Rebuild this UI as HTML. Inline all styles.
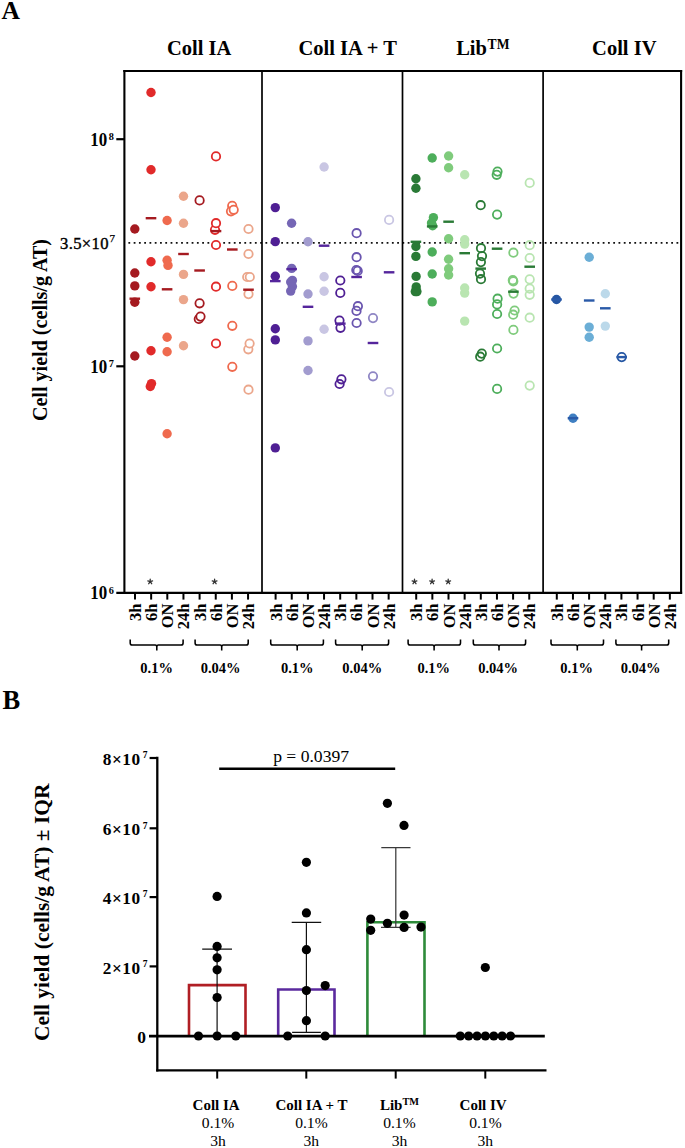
<!DOCTYPE html>
<html><head><meta charset="utf-8"><title>Cell yield figure</title>
<style>
html,body{margin:0;padding:0;background:#fff;}
body{width:685px;height:1148px;overflow:hidden;}
svg{display:block;font-family:"Liberation Serif", serif;}
</style></head>
<body>
<svg width="685" height="1148" viewBox="0 0 685 1148">
<rect width="685" height="1148" fill="#fff"/>
<text x="1.6" y="18.7" font-size="25.5" font-weight="bold">A</text>
<text x="199.2" y="54.5" font-size="20.5" font-weight="bold" text-anchor="middle">Coll IA</text>
<text x="347.7" y="54.5" font-size="20.5" font-weight="bold" text-anchor="middle">Coll IA + T</text>
<text x="624.3" y="54.5" font-size="20.5" font-weight="bold" text-anchor="middle">Coll IV</text>
<text x="456.2" y="54.5" font-size="20.5" font-weight="bold">Lib<tspan font-size="13.6" dy="-5.7" dx="0.6">TM</tspan></text>
<line x1="128.4" y1="242.9" x2="679" y2="242.9" stroke="#111" stroke-width="1.8" stroke-dasharray="1.8 3.47"/>
<circle cx="134.8" cy="229" r="4.7" fill="#A51A20"/>
<circle cx="134.8" cy="273" r="4.7" fill="#A51A20"/>
<circle cx="134.8" cy="285.9" r="4.7" fill="#A51A20"/>
<circle cx="134.8" cy="302.2" r="4.7" fill="#A51A20"/>
<circle cx="134.8" cy="356" r="4.7" fill="#A51A20"/>
<circle cx="151" cy="92.5" r="4.7" fill="#E12A2A"/>
<circle cx="151" cy="169.7" r="4.7" fill="#E12A2A"/>
<circle cx="151" cy="261.7" r="4.7" fill="#E12A2A"/>
<circle cx="151" cy="286.7" r="4.7" fill="#E12A2A"/>
<circle cx="151" cy="350.7" r="4.7" fill="#E12A2A"/>
<circle cx="151.5" cy="383.6" r="4.7" fill="#E12A2A"/>
<circle cx="150.3" cy="386.5" r="4.7" fill="#E12A2A"/>
<circle cx="167.1" cy="220.5" r="4.7" fill="#EF6A4E"/>
<circle cx="167.1" cy="260.3" r="4.7" fill="#EF6A4E"/>
<circle cx="168" cy="265.4" r="4.7" fill="#EF6A4E"/>
<circle cx="167.1" cy="337.2" r="4.7" fill="#EF6A4E"/>
<circle cx="167.1" cy="351.7" r="4.7" fill="#EF6A4E"/>
<circle cx="167.1" cy="433.7" r="4.7" fill="#EF6A4E"/>
<circle cx="183.5" cy="196.3" r="4.7" fill="#EBA68B"/>
<circle cx="183.5" cy="223.3" r="4.7" fill="#EBA68B"/>
<circle cx="183.5" cy="274.4" r="4.7" fill="#EBA68B"/>
<circle cx="183.5" cy="299.6" r="4.7" fill="#EBA68B"/>
<circle cx="183.5" cy="345.8" r="4.7" fill="#EBA68B"/>
<circle cx="199.6" cy="200.4" r="4.2" fill="#fff" stroke="#A51A20" stroke-width="1.8"/>
<circle cx="199.6" cy="303.3" r="4.2" fill="#fff" stroke="#A51A20" stroke-width="1.8"/>
<circle cx="198.8" cy="319" r="4.2" fill="#fff" stroke="#A51A20" stroke-width="1.8"/>
<circle cx="200.5" cy="316.6" r="4.2" fill="#fff" stroke="#A51A20" stroke-width="1.8"/>
<circle cx="216" cy="156.4" r="4.2" fill="#fff" stroke="#E12A2A" stroke-width="1.8"/>
<circle cx="215" cy="229.8" r="4.2" fill="#fff" stroke="#E12A2A" stroke-width="1.8"/>
<circle cx="216" cy="223.2" r="4.2" fill="#fff" stroke="#E12A2A" stroke-width="1.8"/>
<circle cx="216" cy="245" r="4.2" fill="#fff" stroke="#E12A2A" stroke-width="1.8"/>
<circle cx="216" cy="286.7" r="4.2" fill="#fff" stroke="#E12A2A" stroke-width="1.8"/>
<circle cx="216" cy="343.5" r="4.2" fill="#fff" stroke="#E12A2A" stroke-width="1.8"/>
<circle cx="232.2" cy="205.9" r="4.2" fill="#fff" stroke="#EF6A4E" stroke-width="1.8"/>
<circle cx="231" cy="211.3" r="4.2" fill="#fff" stroke="#EF6A4E" stroke-width="1.8"/>
<circle cx="233.7" cy="209.8" r="4.2" fill="#fff" stroke="#EF6A4E" stroke-width="1.8"/>
<circle cx="232.3" cy="285.9" r="4.2" fill="#fff" stroke="#EF6A4E" stroke-width="1.8"/>
<circle cx="232.3" cy="325.8" r="4.2" fill="#fff" stroke="#EF6A4E" stroke-width="1.8"/>
<circle cx="232.3" cy="366.8" r="4.2" fill="#fff" stroke="#EF6A4E" stroke-width="1.8"/>
<circle cx="248.5" cy="229" r="4.2" fill="#fff" stroke="#EBA68B" stroke-width="1.8"/>
<circle cx="248.5" cy="254" r="4.2" fill="#fff" stroke="#EBA68B" stroke-width="1.8"/>
<circle cx="247.2" cy="277" r="4.2" fill="#fff" stroke="#EBA68B" stroke-width="1.8"/>
<circle cx="249.8" cy="277" r="4.2" fill="#fff" stroke="#EBA68B" stroke-width="1.8"/>
<circle cx="248.5" cy="294.1" r="4.2" fill="#fff" stroke="#EBA68B" stroke-width="1.8"/>
<circle cx="248.3" cy="349.3" r="4.2" fill="#fff" stroke="#EBA68B" stroke-width="1.8"/>
<circle cx="249.6" cy="343.5" r="4.2" fill="#fff" stroke="#EBA68B" stroke-width="1.8"/>
<circle cx="248.5" cy="389.7" r="4.2" fill="#fff" stroke="#EBA68B" stroke-width="1.8"/>
<circle cx="275.3" cy="207.6" r="4.7" fill="#4F1F94"/>
<circle cx="275.3" cy="241.6" r="4.7" fill="#4F1F94"/>
<circle cx="275.3" cy="276.2" r="4.7" fill="#4F1F94"/>
<circle cx="275.3" cy="328.7" r="4.7" fill="#4F1F94"/>
<circle cx="275.3" cy="339.9" r="4.7" fill="#4F1F94"/>
<circle cx="275.3" cy="447.9" r="4.7" fill="#4F1F94"/>
<circle cx="291.6" cy="223.2" r="4.7" fill="#7566B5"/>
<circle cx="291.7" cy="268.4" r="4.7" fill="#7566B5"/>
<circle cx="292.4" cy="280.4" r="4.7" fill="#7566B5"/>
<circle cx="290.7" cy="282" r="4.7" fill="#7566B5"/>
<circle cx="292.4" cy="286.6" r="4.7" fill="#7566B5"/>
<circle cx="290.7" cy="291.1" r="4.7" fill="#7566B5"/>
<circle cx="308" cy="241.8" r="4.7" fill="#A29CCF"/>
<circle cx="308" cy="294" r="4.7" fill="#A29CCF"/>
<circle cx="308" cy="340.9" r="4.7" fill="#A29CCF"/>
<circle cx="308" cy="370.5" r="4.7" fill="#A29CCF"/>
<circle cx="324.1" cy="167" r="4.7" fill="#C9C6E3"/>
<circle cx="324.1" cy="276.8" r="4.7" fill="#C9C6E3"/>
<circle cx="324.1" cy="291.3" r="4.7" fill="#C9C6E3"/>
<circle cx="324.1" cy="329.3" r="4.7" fill="#C9C6E3"/>
<circle cx="340.3" cy="280.5" r="4.2" fill="none" stroke="#4F1F94" stroke-width="1.8"/>
<circle cx="340.3" cy="292.9" r="4.2" fill="none" stroke="#4F1F94" stroke-width="1.8"/>
<circle cx="339.5" cy="320.6" r="4.2" fill="none" stroke="#4F1F94" stroke-width="1.8"/>
<circle cx="340.5" cy="327.8" r="4.2" fill="none" stroke="#4F1F94" stroke-width="1.8"/>
<circle cx="341.4" cy="379.3" r="4.2" fill="none" stroke="#4F1F94" stroke-width="1.8"/>
<circle cx="339.6" cy="384" r="4.2" fill="none" stroke="#4F1F94" stroke-width="1.8"/>
<circle cx="356.6" cy="233.2" r="4.2" fill="none" stroke="#6A55AF" stroke-width="1.8"/>
<circle cx="356.6" cy="257.2" r="4.2" fill="none" stroke="#6A55AF" stroke-width="1.8"/>
<circle cx="356.3" cy="270" r="4.2" fill="none" stroke="#6A55AF" stroke-width="1.8"/>
<circle cx="357.7" cy="270.9" r="4.2" fill="none" stroke="#6A55AF" stroke-width="1.8"/>
<circle cx="357.9" cy="306.2" r="4.2" fill="none" stroke="#6A55AF" stroke-width="1.8"/>
<circle cx="356.5" cy="310.9" r="4.2" fill="none" stroke="#6A55AF" stroke-width="1.8"/>
<circle cx="356.6" cy="323" r="4.2" fill="none" stroke="#6A55AF" stroke-width="1.8"/>
<circle cx="373" cy="318.1" r="4.2" fill="none" stroke="#8F86C4" stroke-width="1.8"/>
<circle cx="373" cy="376.3" r="4.2" fill="none" stroke="#8F86C4" stroke-width="1.8"/>
<circle cx="389.1" cy="219.9" r="4.2" fill="none" stroke="#C9C6E3" stroke-width="1.8"/>
<circle cx="389.1" cy="392" r="4.2" fill="none" stroke="#C9C6E3" stroke-width="1.8"/>
<circle cx="415.9" cy="178.8" r="4.7" fill="#2A7A36"/>
<circle cx="415.9" cy="188.3" r="4.7" fill="#2A7A36"/>
<circle cx="415.9" cy="246.5" r="4.7" fill="#2A7A36"/>
<circle cx="415.9" cy="256.4" r="4.7" fill="#2A7A36"/>
<circle cx="416.1" cy="276.4" r="4.7" fill="#2A7A36"/>
<circle cx="416.2" cy="286.9" r="4.7" fill="#2A7A36"/>
<circle cx="415.3" cy="291.6" r="4.7" fill="#2A7A36"/>
<circle cx="416.9" cy="291.6" r="4.7" fill="#2A7A36"/>
<circle cx="432.2" cy="158" r="4.7" fill="#4DAE5B"/>
<circle cx="433.4" cy="217.6" r="4.7" fill="#4DAE5B"/>
<circle cx="431.5" cy="223" r="4.7" fill="#4DAE5B"/>
<circle cx="432.6" cy="225.8" r="4.7" fill="#4DAE5B"/>
<circle cx="432.2" cy="252" r="4.7" fill="#4DAE5B"/>
<circle cx="432.2" cy="274" r="4.7" fill="#4DAE5B"/>
<circle cx="432.2" cy="301.9" r="4.7" fill="#4DAE5B"/>
<circle cx="448.6" cy="156" r="4.7" fill="#7FCB7C"/>
<circle cx="448.6" cy="167.7" r="4.7" fill="#7FCB7C"/>
<circle cx="448.6" cy="238.7" r="4.7" fill="#7FCB7C"/>
<circle cx="448.6" cy="259.2" r="4.7" fill="#7FCB7C"/>
<circle cx="448.6" cy="268.7" r="4.7" fill="#7FCB7C"/>
<circle cx="448.6" cy="275" r="4.7" fill="#7FCB7C"/>
<circle cx="464.7" cy="174.7" r="4.7" fill="#B9E5B1"/>
<circle cx="464.7" cy="239.7" r="4.7" fill="#B9E5B1"/>
<circle cx="464.7" cy="244.1" r="4.7" fill="#B9E5B1"/>
<circle cx="464.7" cy="288" r="4.7" fill="#B9E5B1"/>
<circle cx="464.7" cy="293.1" r="4.7" fill="#B9E5B1"/>
<circle cx="464.7" cy="321.1" r="4.7" fill="#B9E5B1"/>
<circle cx="480.7" cy="205.2" r="4.2" fill="none" stroke="#2A7A36" stroke-width="1.8"/>
<circle cx="481" cy="248.2" r="4.2" fill="none" stroke="#2A7A36" stroke-width="1.8"/>
<circle cx="482" cy="256.1" r="4.2" fill="none" stroke="#2A7A36" stroke-width="1.8"/>
<circle cx="480.9" cy="262.1" r="4.2" fill="none" stroke="#2A7A36" stroke-width="1.8"/>
<circle cx="480" cy="273.6" r="4.2" fill="none" stroke="#2A7A36" stroke-width="1.8"/>
<circle cx="481" cy="279.2" r="4.2" fill="none" stroke="#2A7A36" stroke-width="1.8"/>
<circle cx="481.8" cy="353.6" r="4.2" fill="none" stroke="#2A7A36" stroke-width="1.8"/>
<circle cx="480.2" cy="356.7" r="4.2" fill="none" stroke="#2A7A36" stroke-width="1.8"/>
<circle cx="497.5" cy="171.6" r="4.2" fill="none" stroke="#4DAE5B" stroke-width="1.8"/>
<circle cx="496.7" cy="174.8" r="4.2" fill="none" stroke="#4DAE5B" stroke-width="1.8"/>
<circle cx="497.1" cy="214.6" r="4.2" fill="none" stroke="#4DAE5B" stroke-width="1.8"/>
<circle cx="497.6" cy="298.7" r="4.2" fill="none" stroke="#4DAE5B" stroke-width="1.8"/>
<circle cx="497.1" cy="304.4" r="4.2" fill="none" stroke="#4DAE5B" stroke-width="1.8"/>
<circle cx="497.1" cy="314" r="4.2" fill="none" stroke="#4DAE5B" stroke-width="1.8"/>
<circle cx="497.1" cy="348.5" r="4.2" fill="none" stroke="#4DAE5B" stroke-width="1.8"/>
<circle cx="497.1" cy="388.9" r="4.2" fill="none" stroke="#4DAE5B" stroke-width="1.8"/>
<circle cx="513.4" cy="252.7" r="4.2" fill="none" stroke="#7FCB7C" stroke-width="1.8"/>
<circle cx="512.8" cy="280.2" r="4.2" fill="none" stroke="#7FCB7C" stroke-width="1.8"/>
<circle cx="513.3" cy="281.3" r="4.2" fill="none" stroke="#7FCB7C" stroke-width="1.8"/>
<circle cx="513.5" cy="293.6" r="4.2" fill="none" stroke="#7FCB7C" stroke-width="1.8"/>
<circle cx="514.6" cy="310.5" r="4.2" fill="none" stroke="#7FCB7C" stroke-width="1.8"/>
<circle cx="513.2" cy="314.7" r="4.2" fill="none" stroke="#7FCB7C" stroke-width="1.8"/>
<circle cx="513.4" cy="329.9" r="4.2" fill="none" stroke="#7FCB7C" stroke-width="1.8"/>
<circle cx="529.7" cy="182.9" r="4.2" fill="none" stroke="#B9E5B1" stroke-width="1.8"/>
<circle cx="529.7" cy="245.2" r="4.2" fill="none" stroke="#B9E5B1" stroke-width="1.8"/>
<circle cx="529.7" cy="258" r="4.2" fill="none" stroke="#B9E5B1" stroke-width="1.8"/>
<circle cx="529.7" cy="279.4" r="4.2" fill="none" stroke="#B9E5B1" stroke-width="1.8"/>
<circle cx="529.7" cy="288.6" r="4.2" fill="none" stroke="#B9E5B1" stroke-width="1.8"/>
<circle cx="529.7" cy="294.8" r="4.2" fill="none" stroke="#B9E5B1" stroke-width="1.8"/>
<circle cx="529.7" cy="317.7" r="4.2" fill="none" stroke="#B9E5B1" stroke-width="1.8"/>
<circle cx="529.7" cy="385.6" r="4.2" fill="none" stroke="#B9E5B1" stroke-width="1.8"/>
<circle cx="556.5" cy="299.5" r="4.7" fill="#2556A3"/>
<circle cx="573" cy="418.2" r="4.7" fill="#3F7FC2"/>
<circle cx="589.2" cy="257.2" r="4.7" fill="#6BAED6"/>
<circle cx="589.2" cy="327.1" r="4.7" fill="#6BAED6"/>
<circle cx="589.2" cy="337.3" r="4.7" fill="#6BAED6"/>
<circle cx="605.3" cy="293.8" r="4.7" fill="#BCD9EA"/>
<circle cx="605.3" cy="326.1" r="4.7" fill="#BCD9EA"/>
<circle cx="621.7" cy="357.1" r="4.2" fill="none" stroke="#2556A3" stroke-width="1.8"/>
<rect x="129.5" y="297.5" width="10.6" height="2.4" fill="#A51A20"/>
<rect x="145.7" y="217" width="10.6" height="2.4" fill="#A51A20"/>
<rect x="161.8" y="288.1" width="10.6" height="2.4" fill="#A51A20"/>
<rect x="178.2" y="252.8" width="10.6" height="2.4" fill="#A51A20"/>
<rect x="194.3" y="269.3" width="10.6" height="2.4" fill="#A51A20"/>
<rect x="210.7" y="229.9" width="10.6" height="2.4" fill="#A51A20"/>
<rect x="227" y="248.3" width="10.6" height="2.4" fill="#A51A20"/>
<rect x="243.2" y="288.5" width="10.6" height="2.4" fill="#A51A20"/>
<rect x="270" y="279.9" width="10.6" height="2.4" fill="#55259C"/>
<rect x="286.3" y="267.9" width="10.6" height="2.4" fill="#55259C"/>
<rect x="302.7" y="305.6" width="10.6" height="2.4" fill="#55259C"/>
<rect x="318.8" y="244.5" width="10.6" height="2.4" fill="#55259C"/>
<rect x="335" y="322.4" width="10.6" height="2.4" fill="#55259C"/>
<rect x="351.3" y="275.8" width="10.6" height="2.4" fill="#55259C"/>
<rect x="367.7" y="341.8" width="10.6" height="2.4" fill="#55259C"/>
<rect x="383.8" y="271.1" width="10.6" height="2.4" fill="#55259C"/>
<rect x="410.6" y="240.6" width="10.6" height="2.4" fill="#2A7A36"/>
<rect x="426.9" y="225.2" width="10.6" height="2.4" fill="#2A7A36"/>
<rect x="443.3" y="220.5" width="10.6" height="2.4" fill="#2A7A36"/>
<rect x="459.4" y="252" width="10.6" height="2.4" fill="#2A7A36"/>
<rect x="475.4" y="267.4" width="10.6" height="2.4" fill="#2A7A36"/>
<rect x="491.8" y="247.5" width="10.6" height="2.4" fill="#2A7A36"/>
<rect x="508.1" y="290.5" width="10.6" height="2.4" fill="#2A7A36"/>
<rect x="524.4" y="265.5" width="10.6" height="2.4" fill="#2A7A36"/>
<rect x="551.2" y="298.3" width="10.6" height="2.4" fill="#2A5AA8"/>
<rect x="567.7" y="417" width="10.6" height="2.4" fill="#2A5AA8"/>
<rect x="583.9" y="299.3" width="10.6" height="2.4" fill="#2A5AA8"/>
<rect x="600" y="307.1" width="10.6" height="2.4" fill="#2A5AA8"/>
<rect x="616.4" y="355.9" width="10.6" height="2.4" fill="#2A5AA8"/>
<g stroke="#000" fill="none">
<line x1="123.3" y1="71" x2="682.15" y2="71" stroke-width="2.2"/>
<line x1="124.4" y1="70" x2="124.4" y2="593.8" stroke-width="2.1"/>
<line x1="681.1" y1="70" x2="681.1" y2="593.8" stroke-width="2.1"/>
<line x1="262.0" y1="70" x2="262.0" y2="593" stroke-width="1.7"/>
<line x1="402.5" y1="70" x2="402.5" y2="593" stroke-width="1.7"/>
<line x1="543.1" y1="70" x2="543.1" y2="593" stroke-width="1.7"/>
<line x1="116.3" y1="592.8" x2="682.15" y2="592.8" stroke-width="2.3"/>
<line x1="116.3" y1="139.2" x2="124.4" y2="139.2" stroke-width="2.2"/>
<line x1="116.3" y1="366.3" x2="124.4" y2="366.3" stroke-width="2.2"/>
<line x1="135" y1="592" x2="135" y2="599.6" stroke-width="2"/>
<line x1="151.15" y1="592" x2="151.15" y2="599.6" stroke-width="2"/>
<line x1="167.3" y1="592" x2="167.3" y2="599.6" stroke-width="2"/>
<line x1="183.45" y1="592" x2="183.45" y2="599.6" stroke-width="2"/>
<line x1="199.6" y1="592" x2="199.6" y2="599.6" stroke-width="2"/>
<line x1="215.75" y1="592" x2="215.75" y2="599.6" stroke-width="2"/>
<line x1="231.9" y1="592" x2="231.9" y2="599.6" stroke-width="2"/>
<line x1="248.05" y1="592" x2="248.05" y2="599.6" stroke-width="2"/>
<line x1="275.6" y1="592" x2="275.6" y2="599.6" stroke-width="2"/>
<line x1="291.75" y1="592" x2="291.75" y2="599.6" stroke-width="2"/>
<line x1="307.9" y1="592" x2="307.9" y2="599.6" stroke-width="2"/>
<line x1="324.05" y1="592" x2="324.05" y2="599.6" stroke-width="2"/>
<line x1="340.2" y1="592" x2="340.2" y2="599.6" stroke-width="2"/>
<line x1="356.35" y1="592" x2="356.35" y2="599.6" stroke-width="2"/>
<line x1="372.5" y1="592" x2="372.5" y2="599.6" stroke-width="2"/>
<line x1="388.65" y1="592" x2="388.65" y2="599.6" stroke-width="2"/>
<line x1="416.2" y1="592" x2="416.2" y2="599.6" stroke-width="2"/>
<line x1="432.35" y1="592" x2="432.35" y2="599.6" stroke-width="2"/>
<line x1="448.5" y1="592" x2="448.5" y2="599.6" stroke-width="2"/>
<line x1="464.65" y1="592" x2="464.65" y2="599.6" stroke-width="2"/>
<line x1="480.8" y1="592" x2="480.8" y2="599.6" stroke-width="2"/>
<line x1="496.95" y1="592" x2="496.95" y2="599.6" stroke-width="2"/>
<line x1="513.1" y1="592" x2="513.1" y2="599.6" stroke-width="2"/>
<line x1="529.25" y1="592" x2="529.25" y2="599.6" stroke-width="2"/>
<line x1="556.8" y1="592" x2="556.8" y2="599.6" stroke-width="2"/>
<line x1="572.95" y1="592" x2="572.95" y2="599.6" stroke-width="2"/>
<line x1="589.1" y1="592" x2="589.1" y2="599.6" stroke-width="2"/>
<line x1="605.25" y1="592" x2="605.25" y2="599.6" stroke-width="2"/>
<line x1="621.4" y1="592" x2="621.4" y2="599.6" stroke-width="2"/>
<line x1="637.55" y1="592" x2="637.55" y2="599.6" stroke-width="2"/>
<line x1="653.7" y1="592" x2="653.7" y2="599.6" stroke-width="2"/>
<line x1="669.85" y1="592" x2="669.85" y2="599.6" stroke-width="2"/>
<path d="M130.2 639.6 V642.9 Q130.2 645 132.3 645 H155.2 Q156.8 645 156.8 647 V650.6 M156.8 647 Q156.8 645 158.4 645 H181 Q183.1 645 183.1 642.9 V639.6" stroke-width="1.55"/>
<path d="M195.1 639.6 V642.9 Q195.1 645 197.2 645 H220.1 Q221.7 645 221.7 647 V650.6 M221.7 647 Q221.7 645 223.3 645 H246.1 Q248.2 645 248.2 642.9 V639.6" stroke-width="1.55"/>
<path d="M270.7 639.6 V642.9 Q270.7 645 272.8 645 H295.6 Q297.2 645 297.2 647 V650.6 M297.2 647 Q297.2 645 298.8 645 H321.3 Q323.4 645 323.4 642.9 V639.6" stroke-width="1.55"/>
<path d="M335.6 639.6 V642.9 Q335.6 645 337.7 645 H360.6 Q362.2 645 362.2 647 V650.6 M362.2 647 Q362.2 645 363.8 645 H386.5 Q388.6 645 388.6 642.9 V639.6" stroke-width="1.55"/>
<path d="M408.1 639.6 V642.9 Q408.1 645 410.2 645 H432.5 Q434.1 645 434.1 647 V650.6 M434.1 647 Q434.1 645 435.7 645 H458.4 Q460.5 645 460.5 642.9 V639.6" stroke-width="1.55"/>
<path d="M473.3 639.6 V642.9 Q473.3 645 475.4 645 H497.4 Q499 645 499 647 V650.6 M499 647 Q499 645 500.6 645 H523.5 Q525.6 645 525.6 642.9 V639.6" stroke-width="1.55"/>
<path d="M551 639.6 V642.9 Q551 645 553.1 645 H575.7 Q577.3 645 577.3 647 V650.6 M577.3 647 Q577.3 645 578.9 645 H601.4 Q603.5 645 603.5 642.9 V639.6" stroke-width="1.55"/>
<path d="M615.9 639.6 V642.9 Q615.9 645 618 645 H640 Q641.6 645 641.6 647 V650.6 M641.6 647 Q641.6 645 643.2 645 H666.6 Q668.7 645 668.7 642.9 V639.6" stroke-width="1.55"/>
</g>
<text transform="translate(107.2 146.0) scale(0.92 1)" font-size="18.4" font-weight="bold" text-anchor="end">10</text>
<text transform="translate(108.7 140.3) scale(0.95 1)" font-size="10.8" font-weight="bold">8</text>
<text transform="translate(107.2 372.7) scale(0.92 1)" font-size="18.4" font-weight="bold" text-anchor="end">10</text>
<text transform="translate(108.7 367) scale(0.95 1)" font-size="10.8" font-weight="bold">7</text>
<text transform="translate(107.2 599.4) scale(0.92 1)" font-size="18.4" font-weight="bold" text-anchor="end">10</text>
<text transform="translate(108.7 593.7) scale(0.95 1)" font-size="10.8" font-weight="bold">6</text>
<text x="108.8" y="249.3" font-size="16.6" letter-spacing="0.35" text-anchor="end" stroke="#000" stroke-width="0.4">3.5×10</text>
<text x="109.6" y="242.4" font-size="11" stroke="#000" stroke-width="0.25">7</text>
<text transform="translate(46.6 421.1) rotate(-90)" font-size="20.1" font-weight="bold">Cell yield (cells/g AT)</text>
<path d="M150.2 581.7 L150.2 579.2 M150.2 581.7 L152.58 580.93 M150.2 581.7 L151.67 583.72 M150.2 581.7 L148.73 583.72 M150.2 581.7 L147.82 580.93" stroke="#333" stroke-width="1.3" stroke-linecap="round" fill="none"/>
<path d="M214.6 581.7 L214.6 579.2 M214.6 581.7 L216.98 580.93 M214.6 581.7 L216.07 583.72 M214.6 581.7 L213.13 583.72 M214.6 581.7 L212.22 580.93" stroke="#333" stroke-width="1.3" stroke-linecap="round" fill="none"/>
<path d="M414.5 581.7 L414.5 579.2 M414.5 581.7 L416.88 580.93 M414.5 581.7 L415.97 583.72 M414.5 581.7 L413.03 583.72 M414.5 581.7 L412.12 580.93" stroke="#333" stroke-width="1.3" stroke-linecap="round" fill="none"/>
<path d="M432.1 581.7 L432.1 579.2 M432.1 581.7 L434.48 580.93 M432.1 581.7 L433.57 583.72 M432.1 581.7 L430.63 583.72 M432.1 581.7 L429.72 580.93" stroke="#333" stroke-width="1.3" stroke-linecap="round" fill="none"/>
<path d="M448.2 581.7 L448.2 579.2 M448.2 581.7 L450.58 580.93 M448.2 581.7 L449.67 583.72 M448.2 581.7 L446.73 583.72 M448.2 581.7 L445.82 580.93" stroke="#333" stroke-width="1.3" stroke-linecap="round" fill="none"/>
<text transform="translate(141 603.6) rotate(-90)" font-size="16.5" font-weight="bold" text-anchor="end">3h</text>
<text transform="translate(157.15 603.6) rotate(-90)" font-size="16.5" font-weight="bold" text-anchor="end">6h</text>
<text transform="translate(173.3 603.6) rotate(-90)" font-size="16.5" font-weight="bold" text-anchor="end">ON</text>
<text transform="translate(189.45 603.6) rotate(-90)" font-size="16.5" font-weight="bold" text-anchor="end">24h</text>
<text transform="translate(205.6 603.6) rotate(-90)" font-size="16.5" font-weight="bold" text-anchor="end">3h</text>
<text transform="translate(221.75 603.6) rotate(-90)" font-size="16.5" font-weight="bold" text-anchor="end">6h</text>
<text transform="translate(237.9 603.6) rotate(-90)" font-size="16.5" font-weight="bold" text-anchor="end">ON</text>
<text transform="translate(254.05 603.6) rotate(-90)" font-size="16.5" font-weight="bold" text-anchor="end">24h</text>
<text transform="translate(281.6 603.6) rotate(-90)" font-size="16.5" font-weight="bold" text-anchor="end">3h</text>
<text transform="translate(297.75 603.6) rotate(-90)" font-size="16.5" font-weight="bold" text-anchor="end">6h</text>
<text transform="translate(313.9 603.6) rotate(-90)" font-size="16.5" font-weight="bold" text-anchor="end">ON</text>
<text transform="translate(330.05 603.6) rotate(-90)" font-size="16.5" font-weight="bold" text-anchor="end">24h</text>
<text transform="translate(346.2 603.6) rotate(-90)" font-size="16.5" font-weight="bold" text-anchor="end">3h</text>
<text transform="translate(362.35 603.6) rotate(-90)" font-size="16.5" font-weight="bold" text-anchor="end">6h</text>
<text transform="translate(378.5 603.6) rotate(-90)" font-size="16.5" font-weight="bold" text-anchor="end">ON</text>
<text transform="translate(394.65 603.6) rotate(-90)" font-size="16.5" font-weight="bold" text-anchor="end">24h</text>
<text transform="translate(422.2 603.6) rotate(-90)" font-size="16.5" font-weight="bold" text-anchor="end">3h</text>
<text transform="translate(438.35 603.6) rotate(-90)" font-size="16.5" font-weight="bold" text-anchor="end">6h</text>
<text transform="translate(454.5 603.6) rotate(-90)" font-size="16.5" font-weight="bold" text-anchor="end">ON</text>
<text transform="translate(470.65 603.6) rotate(-90)" font-size="16.5" font-weight="bold" text-anchor="end">24h</text>
<text transform="translate(486.8 603.6) rotate(-90)" font-size="16.5" font-weight="bold" text-anchor="end">3h</text>
<text transform="translate(502.95 603.6) rotate(-90)" font-size="16.5" font-weight="bold" text-anchor="end">6h</text>
<text transform="translate(519.1 603.6) rotate(-90)" font-size="16.5" font-weight="bold" text-anchor="end">ON</text>
<text transform="translate(535.25 603.6) rotate(-90)" font-size="16.5" font-weight="bold" text-anchor="end">24h</text>
<text transform="translate(562.8 603.6) rotate(-90)" font-size="16.5" font-weight="bold" text-anchor="end">3h</text>
<text transform="translate(578.95 603.6) rotate(-90)" font-size="16.5" font-weight="bold" text-anchor="end">6h</text>
<text transform="translate(595.1 603.6) rotate(-90)" font-size="16.5" font-weight="bold" text-anchor="end">ON</text>
<text transform="translate(611.25 603.6) rotate(-90)" font-size="16.5" font-weight="bold" text-anchor="end">24h</text>
<text transform="translate(627.4 603.6) rotate(-90)" font-size="16.5" font-weight="bold" text-anchor="end">3h</text>
<text transform="translate(643.55 603.6) rotate(-90)" font-size="16.5" font-weight="bold" text-anchor="end">6h</text>
<text transform="translate(659.7 603.6) rotate(-90)" font-size="16.5" font-weight="bold" text-anchor="end">ON</text>
<text transform="translate(675.85 603.6) rotate(-90)" font-size="16.5" font-weight="bold" text-anchor="end">24h</text>
<text x="156.6" y="673" font-size="14.5" font-weight="bold" text-anchor="middle">0.1%</text>
<text x="220.6" y="673" font-size="14.5" font-weight="bold" text-anchor="middle">0.04%</text>
<text x="297.2" y="673" font-size="14.5" font-weight="bold" text-anchor="middle">0.1%</text>
<text x="362.2" y="673" font-size="14.5" font-weight="bold" text-anchor="middle">0.04%</text>
<text x="433.8" y="673" font-size="14.5" font-weight="bold" text-anchor="middle">0.1%</text>
<text x="498.1" y="673" font-size="14.5" font-weight="bold" text-anchor="middle">0.04%</text>
<text x="576.6" y="673" font-size="14.5" font-weight="bold" text-anchor="middle">0.1%</text>
<text x="640.6" y="673" font-size="14.5" font-weight="bold" text-anchor="middle">0.04%</text>
<text x="2.6" y="708.6" font-size="26.5" font-weight="bold">B</text>
<text transform="translate(48.9 1040.9) rotate(-90)" font-size="21.45" font-weight="bold">Cell yield (cells/g AT) ± IQR</text>
<text x="140.6" y="765.1" font-size="17.3" font-weight="bold" letter-spacing="0.5" text-anchor="end">8×10</text>
<text x="142.8" y="758.2" font-size="9.5" font-weight="bold">7</text>
<text x="140.6" y="835.4" font-size="17.3" font-weight="bold" letter-spacing="0.5" text-anchor="end">6×10</text>
<text x="142.8" y="828.5" font-size="9.5" font-weight="bold">7</text>
<text x="140.6" y="904.2" font-size="17.3" font-weight="bold" letter-spacing="0.5" text-anchor="end">4×10</text>
<text x="142.8" y="897.3" font-size="9.5" font-weight="bold">7</text>
<text x="140.6" y="973.5" font-size="17.3" font-weight="bold" letter-spacing="0.5" text-anchor="end">2×10</text>
<text x="142.8" y="966.6" font-size="9.5" font-weight="bold">7</text>
<text x="146" y="1042.5" font-size="17.5" font-weight="bold" text-anchor="end">0</text>
<g fill="none" stroke-width="2.6">
<path d="M189 1036 V985.1 H245.5 V1036" stroke="#B01E24"/>
<path d="M278.2 1036 V989.5 H334.5 V1036" stroke="#5B2A9E"/>
<path d="M367.4 1036 V922.3 H424.5 V1036" stroke="#2E8B3A"/>
</g>
<g stroke="#000" fill="none">
<line x1="157.3" y1="756.8" x2="157.3" y2="1071.5" stroke-width="2.3"/>
<line x1="156.2" y1="1070.4" x2="546.5" y2="1070.4" stroke-width="2.3"/>
<line x1="149" y1="1036.1" x2="544.8" y2="1036.1" stroke-width="2.6"/>
<line x1="149.6" y1="758.0" x2="157.3" y2="758.0" stroke-width="2.2"/>
<line x1="149.6" y1="828.3" x2="157.3" y2="828.3" stroke-width="2.2"/>
<line x1="149.6" y1="897.1" x2="157.3" y2="897.1" stroke-width="2.2"/>
<line x1="149.6" y1="966.4" x2="157.3" y2="966.4" stroke-width="2.2"/>
<line x1="217.2" y1="1070" x2="217.2" y2="1078.6" stroke-width="2"/>
<line x1="306.3" y1="1070" x2="306.3" y2="1078.6" stroke-width="2"/>
<line x1="395.7" y1="1070" x2="395.7" y2="1078.6" stroke-width="2"/>
<line x1="485.3" y1="1070" x2="485.3" y2="1078.6" stroke-width="2"/>
<line x1="219.2" y1="768.7" x2="395.2" y2="768.7" stroke-width="2.4"/>
</g>
<text x="311.1" y="762.4" font-size="17.6" text-anchor="middle">p = 0.0397</text>
<g stroke="#111" stroke-width="1.2" fill="none">
<path d="M217.1 1036 V949.1 M202.2 949.1 H232"/>
<path d="M306.4 1032.3 V922.4 M291.7 922.4 H321.2 M292.1 1032.3 H320.9"/>
</g>
<path d="M395.8 927.4 V847.5 M381.3 847.5 H410.5 M381 927.4 H410.6" stroke="#3a3a3a" stroke-width="1.25" fill="none"/>
<circle cx="217.1" cy="896.4" r="4.6" fill="#000"/>
<circle cx="217.1" cy="946.4" r="4.6" fill="#000"/>
<circle cx="217.1" cy="957.8" r="4.6" fill="#000"/>
<circle cx="217.1" cy="969.8" r="4.6" fill="#000"/>
<circle cx="217.1" cy="997.5" r="4.6" fill="#000"/>
<circle cx="198.5" cy="1036" r="4.6" fill="#000"/>
<circle cx="217.1" cy="1036" r="4.6" fill="#000"/>
<circle cx="235.8" cy="1036" r="4.6" fill="#000"/>
<circle cx="306.4" cy="862.3" r="4.6" fill="#000"/>
<circle cx="306.4" cy="912.9" r="4.6" fill="#000"/>
<circle cx="306.4" cy="949.7" r="4.6" fill="#000"/>
<circle cx="306.4" cy="990.6" r="4.6" fill="#000"/>
<circle cx="325.2" cy="985.6" r="4.6" fill="#000"/>
<circle cx="306.4" cy="1020.7" r="4.6" fill="#000"/>
<circle cx="287.7" cy="1036" r="4.6" fill="#000"/>
<circle cx="325.2" cy="1036" r="4.6" fill="#000"/>
<circle cx="387.4" cy="803.3" r="4.6" fill="#000"/>
<circle cx="404" cy="825.4" r="4.6" fill="#000"/>
<circle cx="370.7" cy="919.1" r="4.6" fill="#000"/>
<circle cx="370.7" cy="930.3" r="4.6" fill="#000"/>
<circle cx="387.4" cy="923.3" r="4.6" fill="#000"/>
<circle cx="404.1" cy="915.1" r="4.6" fill="#000"/>
<circle cx="404.1" cy="927.4" r="4.6" fill="#000"/>
<circle cx="421" cy="927.1" r="4.6" fill="#000"/>
<circle cx="485.3" cy="967.5" r="4.6" fill="#000"/>
<circle cx="460.3" cy="1036" r="4.6" fill="#000"/>
<circle cx="468.67" cy="1036" r="4.6" fill="#000"/>
<circle cx="477.04" cy="1036" r="4.6" fill="#000"/>
<circle cx="485.41" cy="1036" r="4.6" fill="#000"/>
<circle cx="493.78" cy="1036" r="4.6" fill="#000"/>
<circle cx="502.15" cy="1036" r="4.6" fill="#000"/>
<circle cx="510.52" cy="1036" r="4.6" fill="#000"/>
<text x="216.1" y="1110.2" font-size="15" font-weight="bold" text-anchor="middle">Coll IA</text>
<text x="218.1" y="1128.2" font-size="15.6" text-anchor="middle">0.1%</text>
<text x="218.1" y="1145.8" font-size="15.6" text-anchor="middle">3h</text>
<text x="311.4" y="1110.2" font-size="15" font-weight="bold" text-anchor="middle">Coll IA + T</text>
<text x="311.4" y="1128.2" font-size="15.6" text-anchor="middle">0.1%</text>
<text x="311.2" y="1145.8" font-size="15.6" text-anchor="middle">3h</text>
<text x="399.5" y="1110.2" font-size="15" font-weight="bold" text-anchor="middle">Lib<tspan font-size="10.3" dy="-5">TM</tspan></text>
<text x="399.4" y="1128.2" font-size="15.6" text-anchor="middle">0.1%</text>
<text x="399.5" y="1145.8" font-size="15.6" text-anchor="middle">3h</text>
<text x="483.1" y="1110.2" font-size="15" font-weight="bold" text-anchor="middle">Coll IV</text>
<text x="485.4" y="1128.2" font-size="15.6" text-anchor="middle">0.1%</text>
<text x="485.3" y="1145.8" font-size="15.6" text-anchor="middle">3h</text>
</svg>
</body></html>
